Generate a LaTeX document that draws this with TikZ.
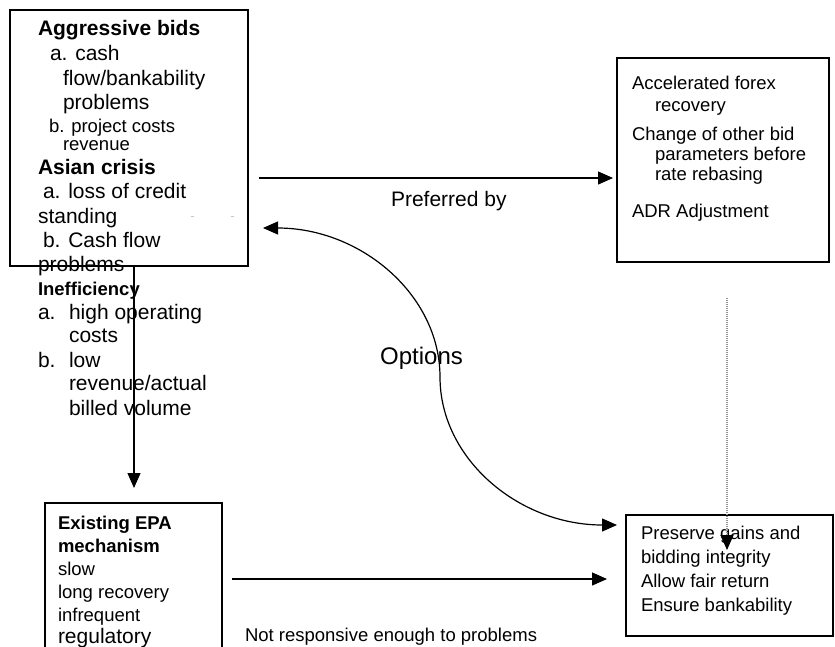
\documentclass[tikz,border=0pt]{standalone}
\usepackage{fontspec}
\setmainfont{Liberation Sans}
\usetikzlibrary{arrows.meta}
\newcommand\szL{\fontsize{21}{24}\selectfont}
\newcommand\szS{\fontsize{18.5}{22}\selectfont}
\newcommand\szO{\fontsize{24}{28}\selectfont}
\begin{document}
\begin{tikzpicture}[x=1pt,y=-1pt,
  box/.style={draw, line width=1.6pt, inner sep=0pt, outer sep=0pt, anchor=north west},
  tl/.style={anchor=base west, inner sep=0pt, outer sep=0pt, font=\szL},
  ts/.style={anchor=base west, inner sep=0pt, outer sep=0pt, font=\szS},
  con/.style={line width=1.2pt, -{Triangle[length=15pt,width=13pt]}},
  dcon/.style={line width=1.2pt, {Triangle[length=15pt,width=13pt]}-{Triangle[length=15pt,width=13pt]}},
  dotcon/.style={draw=gray!85, line width=1.2pt, dash pattern=on 1pt off 1pt, -{Triangle[length=15pt,width=13pt,fill=black,color=black]}}
]
\useasboundingbox (0,0) rectangle (835,646);
\clip (0,0) rectangle (835,646);
\fill[white] (0,0) rectangle (835,646);

% boxes
\node[box, minimum width=238pt, minimum height=256pt] (b1) at (10,10) {};
\node[box, minimum width=212pt, minimum height=204pt] (b2) at (617,58) {};
\node[box, minimum width=177pt, minimum height=175pt] (b3) at (45,503) {};
\node[box, minimum width=207pt, minimum height=121pt] (b4) at (626,515) {};

% box 1 text
\node[tl, font=\szL\bfseries] (a1) at (38,35) {Aggressive bids};
\node[tl] (a2) at (50,60) {a. cash};
\node[tl] (a3) at (63,85) {flow/bankability};
\node[tl] (a4) at (63,109) {problems};
\node[ts] (a5) at (49,132) {b. project costs};
\node[ts] (a6) at (63,150) {revenue};
\node[tl, font=\szL\bfseries] (a7) at (38,174) {Asian crisis};
\node[tl] (a8) at (43,198) {a. loss of credit};
\node[tl] (a9) at (38,223) {standing};
\node[tl] (a10) at (43,247) {b. Cash flow};
\node[tl] (a11) at (38,271) {problems};
\node[ts, font=\szS\bfseries] (a12) at (38,295) {Inefficiency};
\node[tl] (a13) at (38,319) {a.};
\node[tl] (a14) at (69,319) {high operating};
\node[tl] (a15) at (69,342) {costs};
\node[tl] (a16) at (38,367) {b.};
\node[tl] (a17) at (69,367) {low};
\node[tl] (a18) at (69,390) {revenue/actual};
\node[tl] (a19) at (69,415) {billed volume};
\draw[gray!45, line width=0.6pt] (190.5,216) -- (193.5,216);
\draw[gray!45, line width=0.6pt] (230.5,216) -- (233.5,216);

% box 2 text
\node[ts] (c1) at (632,89) {Accelerated forex};
\node[ts] (c2) at (655,111) {recovery};
\node[ts] (c3) at (632,140) {Change of other bid};
\node[ts] (c4) at (655,160) {parameters before};
\node[ts] (c5) at (655,180) {rate rebasing};
\node[ts] (c6) at (632,217) {ADR Adjustment};

% box 3 text
\node[ts, font=\szS\bfseries] (e1) at (58,529) {Existing EPA};
\node[ts, font=\szS\bfseries] (e2) at (58,552) {mechanism};
\node[ts] (e3) at (58,575) {slow};
\node[ts] (e4) at (58,598) {long recovery};
\node[ts] (e5) at (58,621) {infrequent};
\node[tl] (e6) at (58,643) {regulatory};

% box 4 text
\node[ts] (p1) at (641,539) {Preserve gains and};
\node[ts] (p2) at (641,563) {bidding integrity};
\node[ts] (p3) at (641,587) {Allow fair return};
\node[ts] (p4) at (641,611) {Ensure bankability};

% labels
\node[tl] (l1) at (391,206) {Preferred by};
\node[anchor=base west, inner sep=0pt, font=\szO] (l2) at (380,364) {Options};
\node[ts] (l3) at (245,641) {Not responsive enough to problems};

% connector end points
\coordinate (k1) at (259,178);
\coordinate (k2) at (613,178);
\coordinate (k3) at (263,228);
\coordinate (k4) at (440,377);
\coordinate (k5) at (617,525);
\coordinate (k6) at (134,266);
\coordinate (k7) at (134,488);
\coordinate (k8) at (232,579);
\coordinate (k9) at (607,579);
\coordinate (k10) at (727,298);
\coordinate (k11) at (727,550);

% connectors
\draw[con] (k1) -- (k2);
\draw[dcon] (k3) .. controls (361,228) and (440,295) .. (k4) .. controls (440,459) and (519,525) .. (k5);
\draw[con] (k6) -- (k7);
\draw[con] (k8) -- (k9);
\draw[dotcon] (k10) -- (k11);
\end{tikzpicture}
\end{document}
